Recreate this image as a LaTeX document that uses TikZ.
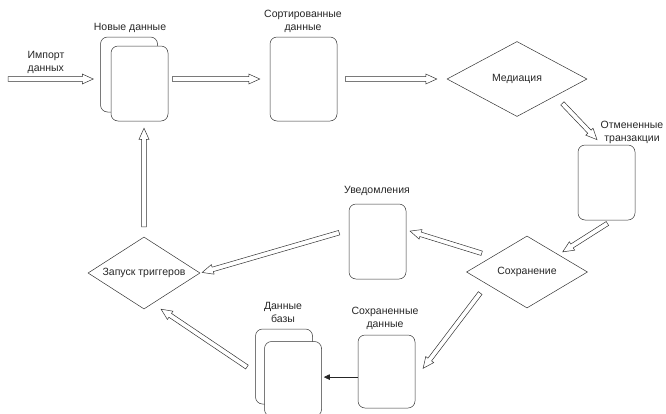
\documentclass[tikz,border=0pt]{standalone}
\usepackage{fontspec}
\setmainfont{Liberation Sans}
\usetikzlibrary{shapes.geometric,calc,arrows.meta}

\tikzset{
  gapa/.store in=\hgapa, gapb/.store in=\hgapb, gapa=0pt, gapb=0pt,
  hollow/.style={draw=black!80, fill=white, line width=0.5pt,
    to path={let \p1=($(\tikztostart)!\hgapa!(\tikztotarget)$),
      \p2=($(\tikztotarget)!\hgapb!(\tikztostart)$),
      \n1={atan2(\y2-\y1,\x2-\x1)} in
      ($(\p1)+(\n1+90:2.3pt)$) -- ($(\p2)+(\n1+180:11pt)+(\n1+90:2.3pt)$)
      -- ($(\p2)+(\n1+180:11pt)+(\n1+90:5pt)$) -- (\p2)
      -- ($(\p2)+(\n1+180:11pt)+(\n1-90:5pt)$) -- ($(\p2)+(\n1+180:11pt)+(\n1-90:2.3pt)$)
      -- ($(\p1)+(\n1-90:2.3pt)$) -- cycle}}
}

\begin{document}
\begin{tikzpicture}[x=1pt,y=-1pt,
	font=\fontsize{10.5}{13}\selectfont,
	box/.style={ draw=black!80, fill=white, rounded corners=7pt, line width=0.5pt, inner sep=0pt, minimum width=57pt, minimum height=75pt },
	dec/.style={ draw=black!80, diamond, line width=0.5pt, inner sep=0pt, text=black!85 },
	lbl/.style={ align=center, inner sep=0pt, text=black!85 }
]
\useasboundingbox (0,0) rectangle (666,413);

\node at (129,74.5) (newback) [box] {};
\node at (139.5,83.5) (newfront) [box] {};
\node at (303.5,79) (sorted) [box,minimum width=67pt,minimum height=84pt] {};
\node at (517,79) (med) [dec,aspect=1.87,minimum width=140pt,minimum height=75pt] {Медиация};
\node at (606.5,182.5) (canc) [box] {};
\node at (527,272) (save) [dec,aspect=1.68,minimum width=121pt,minimum height=72pt] {Сохранение};
\node at (377.5,241.5) (notif) [box] {};
\node at (144,273) (trig) [dec,aspect=1.55,minimum width=112pt,minimum height=72pt] {Запуск триггеров};
\node at (386.5,371.5) (saved) [box,minimum height=73pt] {};
\node at (284,366.5) (dbback) [box] {};
\node at (293,379) (dbfront) [box] {};

\node at (46,62) (imptxt) [lbl,align=left] {Импорт\\данных};
\node at (130,28) (newlbl) [lbl] {Новые данные};
\node at (303,21) (sortlbl) [lbl] {Сортированные\\данные};
\node at (632,132) (canclbl) [lbl] {Отмененные\\транзакции};
\node at (377,191) (notiflbl) [lbl] {Уведомления};
\node at (385,318) (savedlbl) [lbl] {Сохраненные\\данные};
\node at (283,312) (dblbl) [lbl] {Данные\\базы};

\coordinate (imp) at (8,79);
\draw[hollow,gapb=7pt] (imp) to (newback.west |- imp);
\draw[hollow,gapa=4pt,gapb=10pt] (newfront.east |- sorted.west) to (sorted.west);
\draw[hollow,gapa=8pt,gapb=10pt] (sorted.east) to (med.west);
\draw[hollow,gapa=10pt,gapb=7pt] (med.-24) to (canc.97);
\draw[hollow,gapa=6pt,gapb=5pt] (canc.-81) to (save.29);
\draw[hollow,gapa=11pt,gapb=4pt] (save.156) to (notif.22);
\draw[hollow,gapa=10pt,gapb=2pt] (notif.158) to (trig.east);
\draw[hollow,gapa=10pt,gapb=10pt] (dbback.192) to (trig.-74);
\draw[hollow,gapa=10pt,gapb=7pt] (trig.north) to (trig.north |- newfront.south);
\draw[hollow,gapa=11pt,gapb=13pt] (save.197) to (saved.-14);
\draw[black!85,line width=0.6pt,-{Triangle[length=6pt,width=5.5pt]},shorten >=2pt] (saved.-169) to (dbfront.east |- saved.-169);

\end{tikzpicture}
\end{document}
